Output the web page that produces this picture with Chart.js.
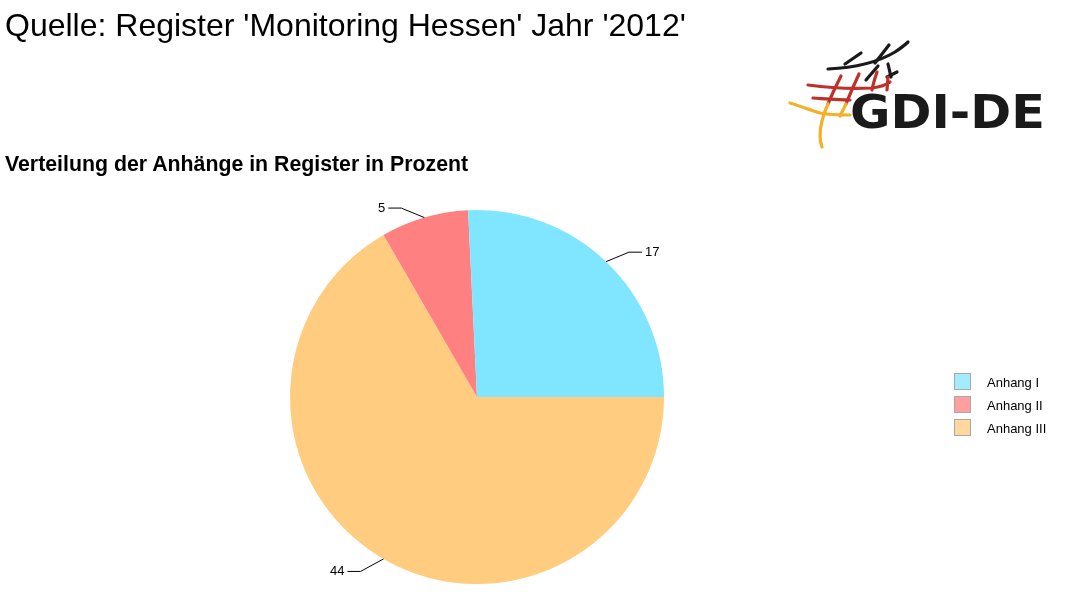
<!DOCTYPE html>
<html>
<head>
<meta charset="utf-8">
<script src="https://cdn.jsdelivr.net/npm/chart.js@4/dist/chart.umd.min.js"></script>
<style>
  body { margin: 0; background: #fff; font-family: "Liberation Sans", Arial, sans-serif; }
  #wrap { position: relative; width: 1073px; height: 603px; overflow: hidden; }
  #chart { position: absolute; left: 0; top: 0; }
  .title { position: absolute; left: 5px; top: 9px; font-size: 32px; line-height: 32px; color: #000; white-space: nowrap; }
  .subtitle { position: absolute; left: 5px; top: 154px; font-size: 21.3px; line-height: 21px; font-weight: bold; color: #000; white-space: nowrap; }
  #legend { position: absolute; left: 954px; top: 373px; }
  .item { height: 23px; display: flex; align-items: flex-start; }
  .box { width: 15px; height: 15px; border: 1px solid #a8a8a8; }
  .lbl { margin-left: 16px; font-size: 13px; line-height: 19px; color: #000; }
  #logo { position: absolute; left: 780px; top: 35px; }
</style>
</head>
<body>
<div id="wrap">
  <canvas id="chart" width="1073" height="603"></canvas>
  <div class="title">Quelle: Register 'Monitoring Hessen' Jahr '2012'</div>
  <div class="subtitle">Verteilung der Anhänge in Register in Prozent</div>
  <div id="legend"></div>
  <svg id="logo" width="280" height="120" viewBox="780 35 280 120">
    <g fill="none" stroke-linecap="round" stroke-width="3.2">
      <!-- black part -->
      <path d="M828,69 C850,68 875,64 895,52 C901,48 905,45 908,42" stroke="#1a1a1a"/>
      <path d="M845,64 L861,53" stroke="#1a1a1a"/>
      <path d="M875,63 L889,45" stroke="#1a1a1a"/>
      <path d="M866,80 L878,66" stroke="#1a1a1a"/>
      <path d="M888,64 L891,77" stroke="#1a1a1a"/>
      <path d="M887,77 L897,72" stroke="#1a1a1a"/>
      <!-- red part -->
      <path d="M808,85 C830,88 855,89 872,88 C880,87 886,85 890,82" stroke="#c0302b"/>
      <path d="M813,98 C828,99 840,100 850,100" stroke="#c0302b"/>
      <path d="M841,76 C836,86 832,94 828,104" stroke="#c0302b"/>
      <path d="M859,74 C854,85 850,94 846,104" stroke="#c0302b"/>
      <path d="M877,72 C875,78 873,84 872,90" stroke="#c0302b"/>
      <path d="M888,77 L887,90" stroke="#c0302b"/>
      <!-- yellow part -->
      <path d="M790,103 C800,106 810,110 820,113 C830,115 840,115 850,115" stroke="#f4b128"/>
      <path d="M828,104 C823,115 820,127 820,136 C820,140 821,144 822,147" stroke="#f4b128"/>
      <path d="M846,104 C844,108 842,112 840,116" stroke="#f4b128"/>
    </g>
    <text x="850" y="128" font-family="DejaVu Sans" font-weight="bold" font-size="46" fill="#1a1a1a" textLength="195" lengthAdjust="spacingAndGlyphs">GDI-DE</text>
  </svg>
</div>
<script>
const categories = ['Anhang I', 'Anhang II', 'Anhang III'];
const values = [17, 5, 44];
const colors = ['#80e5ff', '#ff8080', '#ffcc80'];
const legendColors = ['#a3ecff', '#ffa0a0', '#ffd8a0'];

// slices run counter-clockwise from 3 o'clock, so feed them reversed
const order = [2, 1, 0];

const sliceLabels = {
  id: 'sliceLabels',
  afterDatasetsDraw(chart) {
    const ctx = chart.ctx;
    const meta = chart.getDatasetMeta(0);
    ctx.save();
    ctx.strokeStyle = '#000';
    ctx.lineWidth = 1;
    ctx.fillStyle = '#000';
    ctx.font = '13px "Liberation Sans", Arial, sans-serif';
    ctx.textBaseline = 'middle';
    meta.data.forEach((arc, i) => {
      const p = arc.getProps(['x', 'y', 'startAngle', 'endAngle', 'outerRadius'], true);
      const mid = (p.startAngle + p.endAngle) / 2;
      const c = Math.cos(mid), s = Math.sin(mid);
      const sx = c >= 0 ? 1 : -1, sy = s >= 0 ? 1 : -1;
      const x0 = p.x + p.outerRadius * c, y0 = p.y + p.outerRadius * s;
      const x1 = x0 + sx * 23, y1 = y0 + sy * 11 + 1.5;
      const x2 = x1 + sx * 13;
      ctx.beginPath();
      ctx.moveTo(x0, y0);
      ctx.lineTo(x1, y1);
      ctx.lineTo(x2, y1);
      ctx.stroke();
      ctx.textAlign = sx > 0 ? 'left' : 'right';
      ctx.fillText(String(chart.data.datasets[0].data[i]), x2 + sx * 3, y1);
    });
    ctx.restore();
  }
};

new Chart(document.getElementById('chart'), {
  type: 'pie',
  data: {
    labels: order.map(i => categories[i]),
    datasets: [{
      data: order.map(i => values[i]),
      backgroundColor: order.map(i => colors[i]),
      borderWidth: 0,
    }],
  },
  plugins: [sliceLabels],
  options: {
    responsive: false,
    animation: false,
    rotation: 90,
    layout: { padding: { left: 290, right: 409, top: 210, bottom: 19 } },
    plugins: {
      legend: { display: false },
      tooltip: { enabled: false },
    },
  },
});

const legend = document.getElementById('legend');
categories.forEach((name, i) => {
  const row = document.createElement('div');
  row.className = 'item';
  row.innerHTML = '<div class="box" style="background:' + legendColors[i] + '"></div><div class="lbl">' + name + '</div>';
  legend.appendChild(row);
});
</script>
</body>
</html>
